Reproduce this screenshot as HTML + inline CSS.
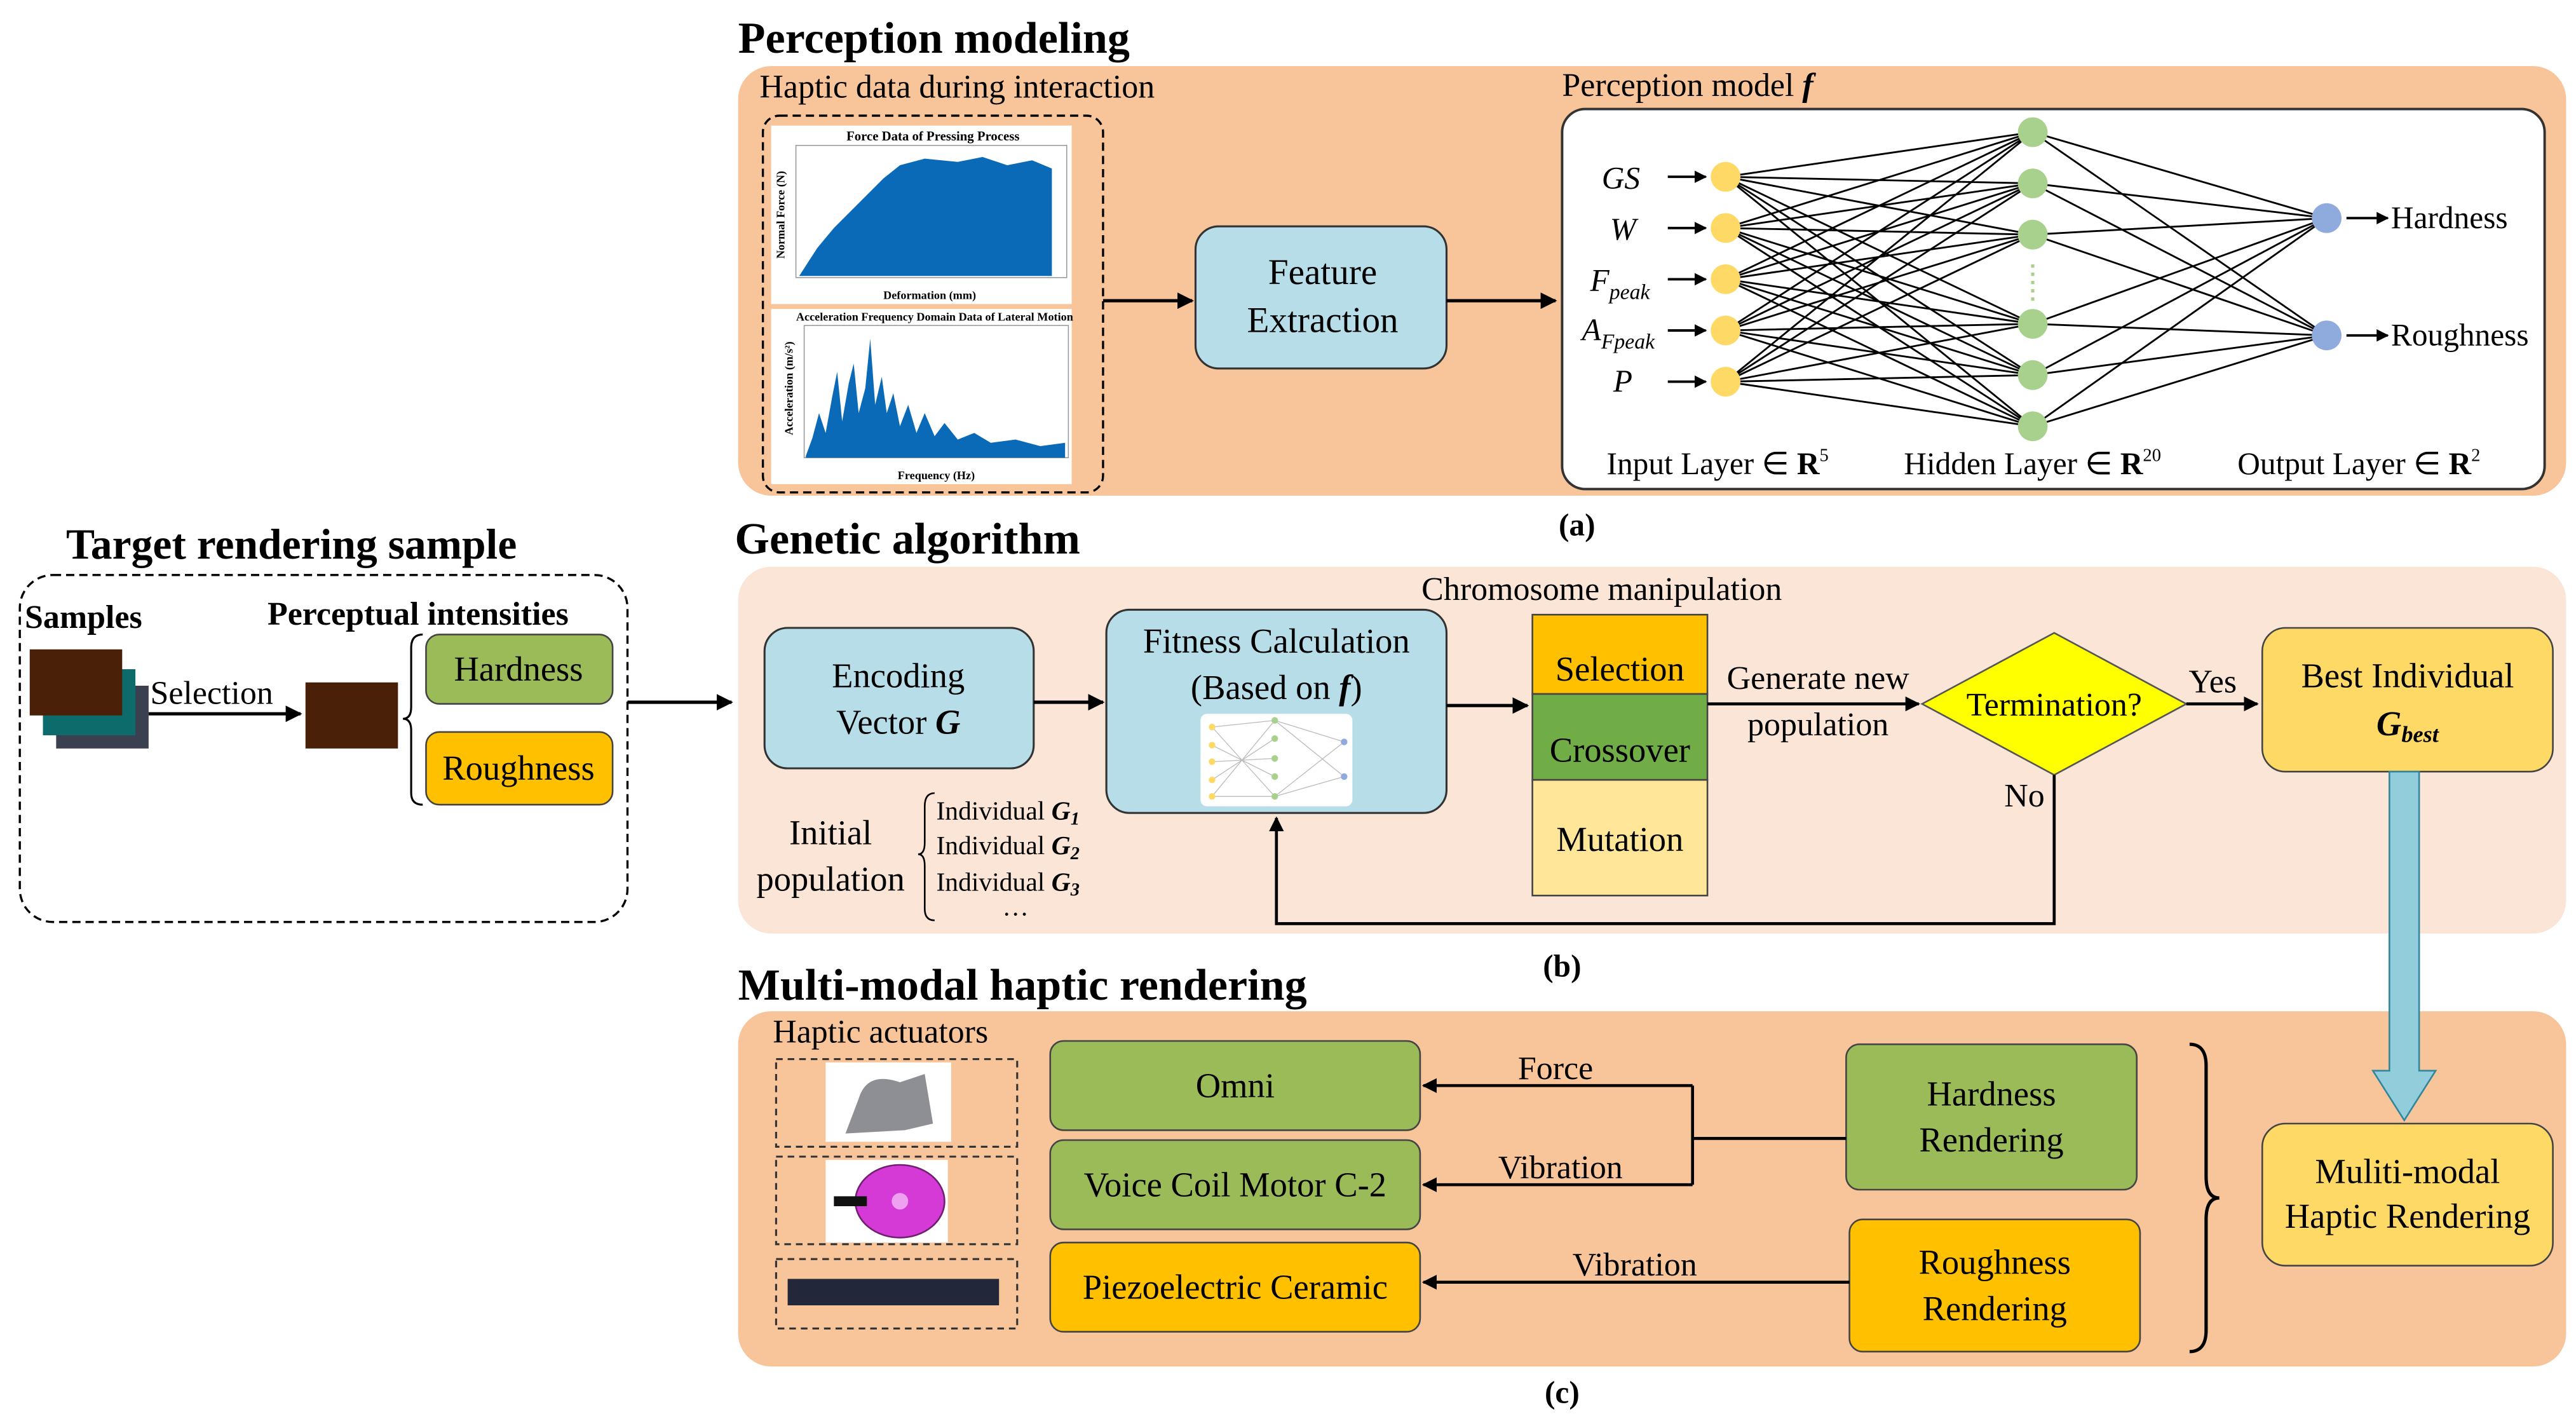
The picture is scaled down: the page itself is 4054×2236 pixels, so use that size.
<!DOCTYPE html>
<html><head><meta charset="utf-8"><style>
html,body{margin:0;padding:0;background:#fff;}
svg{display:block;font-family:"Liberation Serif",serif;}
text{font-family:"Liberation Serif",serif;fill:#000;}
</style></head><body>
<svg width="4054" height="2236" viewBox="0 0 1560 860" preserveAspectRatio="none" xmlns="http://www.w3.org/2000/svg" font-family="Liberation Serif, serif">
<defs>
<marker id="ah" viewBox="0 0 10 10" refX="9" refY="5" markerWidth="5" markerHeight="5" orient="auto"><path d="M0,0 L10,5 L0,10 z" fill="#000"/></marker>
</defs>

<!-- (a) Perception modeling -->
<text x="447" y="32" font-size="27" font-weight="bold">Perception modeling</text>
<rect x="447" y="40" width="1107" height="260" rx="20" fill="#f8c49a"/>
<text x="460" y="59" font-size="20">Haptic data during interaction</text>
<rect x="462" y="70" width="206" height="228" rx="10" fill="none" stroke="#000" stroke-dasharray="5,3" stroke-width="1.3"/>
<rect x="467" y="76" width="182" height="108" fill="#fff"/>
<text x="565" y="85" font-size="8" font-weight="bold" text-anchor="middle" font-family="Liberation Sans">Force Data of Pressing Process</text>
<rect x="482" y="88" width="164" height="80" fill="none" stroke="#999" stroke-width="0.6"/>
<path d="M484,167 L495,150 L505,138 L515,128 L525,118 L535,108 L545,100 L560,96 L580,98 L595,95 L610,100 L625,97 L637,102 L637,167 Z" fill="#0a6ab8"/>
<text x="563" y="181" font-size="7" font-weight="bold" text-anchor="middle" font-family="Liberation Sans">Deformation (mm)</text>
<text x="475" y="130" font-size="7" font-weight="bold" text-anchor="middle" transform="rotate(-90 475 130)" font-family="Liberation Sans">Normal Force (N)</text>
<rect x="467" y="187" width="182" height="106" fill="#fff"/>
<text x="566" y="194" font-size="7" font-weight="bold" text-anchor="middle" font-family="Liberation Sans">Acceleration Frequency Domain Data of Lateral Motion</text>
<rect x="487" y="197" width="160" height="80" fill="none" stroke="#999" stroke-width="0.6"/>
<path d="M488,276 L492,265 L496,250 L500,262 L504,240 L507,225 L510,255 L514,232 L517,220 L520,250 L524,235 L527,205 L530,245 L534,228 L537,250 L541,238 L545,258 L550,245 L555,262 L560,250 L566,264 L572,256 L580,266 L590,262 L600,268 L615,266 L630,270 L645,268 L645,277 L488,277 Z" fill="#0a6ab8"/>
<text x="567" y="290" font-size="7" font-weight="bold" text-anchor="middle" font-family="Liberation Sans">Frequency (Hz)</text>
<text x="480" y="235" font-size="7" font-weight="bold" text-anchor="middle" transform="rotate(-90 480 235)" font-family="Liberation Sans">Acceleration (m/s²)</text>

<line x1="668" y1="182" x2="722" y2="182" stroke="#000" stroke-width="2" marker-end="url(#ah)"/>
<rect x="724" y="137" width="152" height="86" rx="14" fill="#b7dde8" stroke="#333" stroke-width="1.2"/>
<text x="801" y="172" font-size="22" text-anchor="middle">Feature</text>
<text x="801" y="201" font-size="22" text-anchor="middle">Extraction</text>
<line x1="876" y1="182" x2="942" y2="182" stroke="#000" stroke-width="2" marker-end="url(#ah)"/>

<text x="946" y="58" font-size="20">Perception model <tspan font-style="italic" font-weight="bold">f</tspan></text>
<rect x="946" y="66" width="595" height="230" rx="14" fill="#fff" stroke="#333" stroke-width="1.5"/>
<g stroke="#000" stroke-width="1.1">
<path d="M1045,107 L1231,80 M1045,107 L1231,111 M1045,107 L1231,142 M1045,107 L1231,196 M1045,107 L1231,227 M1045,107 L1231,258
M1045,138 L1231,80 M1045,138 L1231,111 M1045,138 L1231,142 M1045,138 L1231,196 M1045,138 L1231,227 M1045,138 L1231,258
M1045,169 L1231,80 M1045,169 L1231,111 M1045,169 L1231,142 M1045,169 L1231,196 M1045,169 L1231,227 M1045,169 L1231,258
M1045,200 L1231,80 M1045,200 L1231,111 M1045,200 L1231,142 M1045,200 L1231,196 M1045,200 L1231,227 M1045,200 L1231,258
M1045,231 L1231,80 M1045,231 L1231,111 M1045,231 L1231,142 M1045,231 L1231,196 M1045,231 L1231,227 M1045,231 L1231,258
M1231,80 L1409,132 M1231,111 L1409,132 M1231,142 L1409,132 M1231,196 L1409,132 M1231,227 L1409,132 M1231,258 L1409,132
M1231,80 L1409,203 M1231,111 L1409,203 M1231,142 L1409,203 M1231,196 L1409,203 M1231,227 L1409,203 M1231,258 L1409,203"/>
</g>
<g fill="#ffd966"><circle cx="1045" cy="107" r="9"/><circle cx="1045" cy="138" r="9"/><circle cx="1045" cy="169" r="9"/><circle cx="1045" cy="200" r="9"/><circle cx="1045" cy="231" r="9"/></g>
<g fill="#a9d18e"><circle cx="1231" cy="80" r="9"/><circle cx="1231" cy="111" r="9"/><circle cx="1231" cy="142" r="9"/><circle cx="1231" cy="196" r="9"/><circle cx="1231" cy="227" r="9"/><circle cx="1231" cy="258" r="9"/></g>
<line x1="1231" y1="160" x2="1231" y2="182" stroke="#a9d18e" stroke-width="2" stroke-dasharray="2,3"/>
<g fill="#8faadc"><circle cx="1409" cy="132" r="9"/><circle cx="1409" cy="203" r="9"/></g>
<g font-size="19" font-style="italic">
<text x="970" y="114">GS</text><text x="975" y="145">W</text>
<text x="963" y="176">F<tspan font-size="13" dy="5">peak</tspan></text>
<text x="958" y="206">A<tspan font-size="13" dy="5">Fpeak</tspan></text>
<text x="977" y="237">P</text>
</g>
<g stroke="#000" stroke-width="1.5">
<line x1="1010" y1="107" x2="1033" y2="107" marker-end="url(#ah)"/><line x1="1010" y1="138" x2="1033" y2="138" marker-end="url(#ah)"/>
<line x1="1010" y1="169" x2="1033" y2="169" marker-end="url(#ah)"/><line x1="1010" y1="200" x2="1033" y2="200" marker-end="url(#ah)"/>
<line x1="1010" y1="231" x2="1033" y2="231" marker-end="url(#ah)"/>
<line x1="1421" y1="132" x2="1446" y2="132" marker-end="url(#ah)"/><line x1="1421" y1="203" x2="1446" y2="203" marker-end="url(#ah)"/>
</g>
<text x="1448" y="138" font-size="19">Hardness</text>
<text x="1448" y="209" font-size="19">Roughness</text>
<text x="973" y="287" font-size="19">Input Layer ∈ <tspan font-weight="bold">R</tspan><tspan font-size="11" dy="-8">5</tspan></text>
<text x="1153" y="287" font-size="19">Hidden Layer ∈ <tspan font-weight="bold">R</tspan><tspan font-size="11" dy="-8">20</tspan></text>
<text x="1355" y="287" font-size="19">Output Layer ∈ <tspan font-weight="bold">R</tspan><tspan font-size="11" dy="-8">2</tspan></text>
<text x="955" y="324" font-size="19" font-weight="bold" text-anchor="middle">(a)</text>

<!-- Target rendering sample -->
<text x="40" y="338" font-size="26" font-weight="bold">Target rendering sample</text>
<rect x="12" y="348" width="368" height="210" rx="20" fill="none" stroke="#000" stroke-dasharray="5,3" stroke-width="1.3"/>
<text x="15" y="380" font-size="20" font-weight="bold">Samples</text>
<text x="162" y="378" font-size="20" font-weight="bold">Perceptual intensities</text>
<rect x="34" y="415" width="56" height="38" fill="#3a4050"/>
<rect x="26" y="405" width="56" height="40" fill="#0e6b6b"/>
<rect x="18" y="393" width="56" height="40" fill="#4a2008"/>
<text x="91" y="426" font-size="20">Selection</text>
<line x1="90" y1="432" x2="182" y2="432" stroke="#000" stroke-width="2" marker-end="url(#ah)"/>
<rect x="185" y="413" width="56" height="40" fill="#4a2008"/>
<path d="M256,384 Q249,384 249,392 L249,428 Q249,435 244,435 Q249,435 249,442 L249,480 Q249,487 256,487" fill="none" stroke="#000" stroke-width="1.2"/>
<rect x="258" y="384" width="113" height="42" rx="8" fill="#9bbb59" stroke="#444" stroke-width="1"/>
<text x="314" y="412" font-size="21" text-anchor="middle">Hardness</text>
<rect x="258" y="443" width="113" height="44" rx="8" fill="#ffc000" stroke="#444" stroke-width="1"/>
<text x="314" y="472" font-size="21" text-anchor="middle">Roughness</text>
<line x1="380" y1="425" x2="443" y2="425" stroke="#000" stroke-width="2" marker-end="url(#ah)"/>

<!-- (b) Genetic algorithm -->
<text x="445" y="335" font-size="27" font-weight="bold">Genetic algorithm</text>
<rect x="447" y="343" width="1107" height="222" rx="20" fill="#fbe5d6"/>
<text x="970" y="363" font-size="20" text-anchor="middle">Chromosome manipulation</text>
<rect x="463" y="380" width="163" height="85" rx="14" fill="#b7dde8" stroke="#333" stroke-width="1.2"/>
<text x="544" y="416" font-size="21" text-anchor="middle">Encoding</text>
<text x="544" y="444" font-size="21" text-anchor="middle">Vector <tspan font-style="italic" font-weight="bold">G</tspan></text>
<line x1="626" y1="425" x2="668" y2="425" stroke="#000" stroke-width="2" marker-end="url(#ah)"/>
<rect x="670" y="369" width="206" height="123" rx="14" fill="#b7dde8" stroke="#333" stroke-width="1.2"/>
<text x="773" y="395" font-size="21" text-anchor="middle">Fitness Calculation</text>
<text x="773" y="423" font-size="21" text-anchor="middle">(Based on <tspan font-style="italic" font-weight="bold">f</tspan>)</text>
<rect x="727" y="432" width="92" height="56" rx="4" fill="#fff"/>
<g stroke="#bbb" stroke-width="0.5"><path d="M734,440 L772,436 M734,440 L772,482 M734,482 L772,436 M734,482 L772,482 M734,461 L772,459 M772,436 L814,449 M772,482 L814,449 M772,436 L814,470 M772,482 L814,470 M734,451 L772,470 M734,472 L772,447"/></g>
<g fill="#ffd966"><circle cx="734" cy="440" r="2"/><circle cx="734" cy="451" r="2"/><circle cx="734" cy="461" r="2"/><circle cx="734" cy="472" r="2"/><circle cx="734" cy="482" r="2"/></g>
<g fill="#a9d18e"><circle cx="772" cy="436" r="2"/><circle cx="772" cy="447" r="2"/><circle cx="772" cy="459" r="2"/><circle cx="772" cy="470" r="2"/><circle cx="772" cy="482" r="2"/></g>
<g fill="#8faadc"><circle cx="814" cy="449" r="2"/><circle cx="814" cy="470" r="2"/></g>
<line x1="876" y1="427" x2="925" y2="427" stroke="#000" stroke-width="2" marker-end="url(#ah)"/>
<rect x="928" y="372" width="106" height="48" fill="#ffc000" stroke="#444" stroke-width="1"/>
<text x="981" y="412" font-size="21" text-anchor="middle">Selection</text>
<rect x="928" y="420" width="106" height="52" fill="#70ad47" stroke="#444" stroke-width="1"/>
<text x="981" y="461" font-size="21" text-anchor="middle">Crossover</text>
<rect x="928" y="472" width="106" height="70" fill="#ffe699" stroke="#444" stroke-width="1"/>
<text x="981" y="515" font-size="21" text-anchor="middle">Mutation</text>
<text x="1101" y="417" font-size="20" text-anchor="middle">Generate new</text>
<text x="1101" y="445" font-size="20" text-anchor="middle">population</text>
<line x1="1034" y1="426" x2="1162" y2="426" stroke="#000" stroke-width="1.8" marker-end="url(#ah)"/>
<polygon points="1164,426 1244,383 1324,426 1244,469" fill="#ffff00" stroke="#555" stroke-width="1"/>
<text x="1244" y="433" font-size="20" text-anchor="middle">Termination?</text>
<line x1="1324" y1="426" x2="1367" y2="426" stroke="#000" stroke-width="1.8" marker-end="url(#ah)"/>
<text x="1340" y="419" font-size="20" text-anchor="middle">Yes</text>
<text x="1226" y="488" font-size="20" text-anchor="middle">No</text>
<path d="M1244,469 L1244,559 L773,559 L773,495" fill="none" stroke="#000" stroke-width="1.8" marker-end="url(#ah)"/>
<rect x="1370" y="380" width="176" height="87" rx="14" fill="#ffd966" stroke="#444" stroke-width="1"/>
<text x="1458" y="416" font-size="21" text-anchor="middle">Best Individual</text>
<text x="1458" y="445" font-size="21" font-style="italic" font-weight="bold" text-anchor="middle">G<tspan font-size="14" dy="4">best</tspan></text>
<text x="503" y="511" font-size="21" text-anchor="middle">Initial</text>
<text x="503" y="539" font-size="21" text-anchor="middle">population</text>
<path d="M566,480 Q560,480 560,488 L560,510 Q560,517 556,517 Q560,517 560,524 L560,550 Q560,557 566,557" fill="none" stroke="#000" stroke-width="1"/>
<g font-size="16"><text x="567" y="496">Individual <tspan font-style="italic" font-weight="bold">G<tspan font-size="11" dy="3">1</tspan></tspan></text>
<text x="567" y="517">Individual <tspan font-style="italic" font-weight="bold">G<tspan font-size="11" dy="3">2</tspan></tspan></text>
<text x="567" y="539">Individual <tspan font-style="italic" font-weight="bold">G<tspan font-size="11" dy="3">3</tspan></tspan></text>
<text x="607" y="554">…</text></g>
<text x="946" y="591" font-size="19" font-weight="bold" text-anchor="middle">(b)</text>

<!-- (c) -->
<text x="447" y="605" font-size="27" font-weight="bold">Multi-modal haptic rendering</text>
<rect x="447" y="612" width="1107" height="215" rx="20" fill="#f8c49a"/>
<text x="468" y="631" font-size="20">Haptic actuators</text>
<g fill="none" stroke="#333" stroke-dasharray="4,3" stroke-width="1.2">
<rect x="470" y="641" width="146" height="53"/><rect x="470" y="700" width="146" height="53"/><rect x="470" y="762" width="146" height="42"/></g>
<rect x="500" y="643" width="76" height="48" fill="#fff"/>
<path d="M512,686 L520,665 Q525,648 545,655 L560,650 L565,680 L548,684 Z" fill="#8d8f95"/>
<rect x="500" y="702" width="74" height="50" fill="#fff"/>
<ellipse cx="545" cy="727" rx="27" ry="22" fill="#d63ad6" stroke="#702070"/>
<circle cx="545" cy="727" r="5" fill="#f0a0f0"/>
<rect x="505" y="724" width="20" height="6" fill="#111"/>
<rect x="477" y="774" width="128" height="16" fill="#22283a"/>
<rect x="636" y="630" width="224" height="54" rx="8" fill="#9bbb59" stroke="#444" stroke-width="1"/>
<text x="748" y="664" font-size="21" text-anchor="middle">Omni</text>
<rect x="636" y="690" width="224" height="54" rx="8" fill="#9bbb59" stroke="#444" stroke-width="1"/>
<text x="748" y="724" font-size="21" text-anchor="middle">Voice Coil Motor C-2</text>
<rect x="636" y="752" width="224" height="54" rx="8" fill="#ffc000" stroke="#444" stroke-width="1"/>
<text x="748" y="786" font-size="21" text-anchor="middle">Piezoelectric  Ceramic</text>
<rect x="1118" y="632" width="176" height="88" rx="8" fill="#9bbb59" stroke="#444" stroke-width="1"/>
<text x="1206" y="669" font-size="21" text-anchor="middle">Hardness</text>
<text x="1206" y="697" font-size="21" text-anchor="middle">Rendering</text>
<rect x="1120" y="738" width="176" height="80" rx="8" fill="#ffc000" stroke="#444" stroke-width="1"/>
<text x="1208" y="771" font-size="21" text-anchor="middle">Roughness</text>
<text x="1208" y="799" font-size="21" text-anchor="middle">Rendering</text>
<g stroke="#000" stroke-width="1.8" fill="none">
<path d="M1118,689 L1025,689"/><path d="M1025,657 L1025,717"/>
<line x1="1025" y1="657" x2="862" y2="657" marker-end="url(#ah)"/>
<line x1="1025" y1="717" x2="862" y2="717" marker-end="url(#ah)"/>
<line x1="1120" y1="776" x2="862" y2="776" marker-end="url(#ah)"/>
</g>
<text x="942" y="653" font-size="20" text-anchor="middle">Force</text>
<text x="945" y="713" font-size="20" text-anchor="middle">Vibration</text>
<text x="990" y="772" font-size="20" text-anchor="middle">Vibration</text>
<path d="M1326,632 Q1336,632 1336,645 L1336,712 Q1336,725 1344,725 Q1336,725 1336,738 L1336,805 Q1336,818 1326,818" fill="none" stroke="#000" stroke-width="2"/>
<rect x="1370" y="680" width="176" height="86" rx="14" fill="#ffd966" stroke="#444" stroke-width="1"/>
<text x="1458" y="716" font-size="21" text-anchor="middle">Muliti-modal</text>
<text x="1458" y="743" font-size="21" text-anchor="middle">Haptic Rendering</text>
<text x="946" y="849" font-size="19" font-weight="bold" text-anchor="middle">(c)</text>

<!-- big blue arrow (on top) -->
<polygon points="1447,467 1465,467 1465,648 1475,648 1456,678 1437,648 1447,648" fill="#92cddc" stroke="#31859c" stroke-width="1"/>
</svg>
</body></html>
